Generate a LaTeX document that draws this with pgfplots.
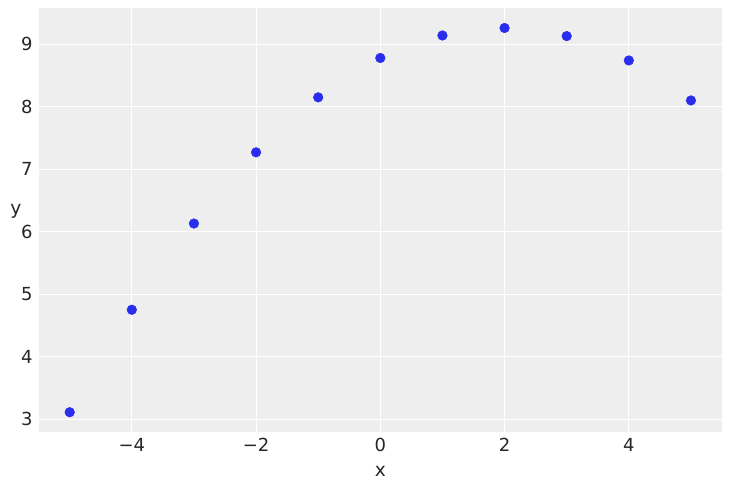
\documentclass[border=0pt]{standalone}
\usepackage{pgfplots}
\pgfplotsset{compat=1.18}
\usepackage{fontspec}
\setmainfont{DejaVu Sans}
\definecolor{bgc}{HTML}{EEEEEE}
\definecolor{ptc}{HTML}{2A2EEC}
\definecolor{txt}{HTML}{262626}
\begin{document}
\begin{tikzpicture}
\begin{axis}[
  scale only axis,
  width=513pt, height=318pt,
  xmin=-5.5, xmax=5.5, ymin=2.8, ymax=9.58,
  xtick={-4,-2,0,2,4}, xticklabels={−4,−2,0,2,4},
  ytick={3,4,5,6,7,8,9},
  axis background/.style={fill=bgc},
  axis line style={draw=none},
  grid=major, major grid style={white, line width=0.8pt},
  tick style={draw=none},
  /pgf/number format/assume math mode=true,
  ticklabel style={font=\fontsize{13.5}{15}\selectfont, text=txt},
  label style={font=\fontsize{14}{16}\selectfont, text=txt},
  xlabel={x}, ylabel={y},
  ylabel style={rotate=-90, at={(rel axis cs:0,0.5)}, anchor=center, xshift=-17pt, yshift=6pt},
  xlabel style={yshift=-4pt},
  xticklabel style={yshift=-1.5pt},
  yticklabel style={xshift=-1pt},
  clip=false,
  name=ax,
]
\addplot[only marks, mark=*, mark size=3.6pt, color=ptc, mark options={draw=ptc, fill=ptc}] coordinates {
(-5,3.11) (-4,4.75) (-3,6.13) (-2,7.27) (-1,8.15) (0,8.78) (1,9.14) (2,9.26) (3,9.13) (4,8.74) (5,8.10)
};
\end{axis}
\pgfresetboundingbox
\path[use as bounding box] ([xshift=-29pt,yshift=-44.5pt]ax.south west) rectangle ([xshift=6.75pt,yshift=6pt]ax.north east);
\end{tikzpicture}
\end{document}
